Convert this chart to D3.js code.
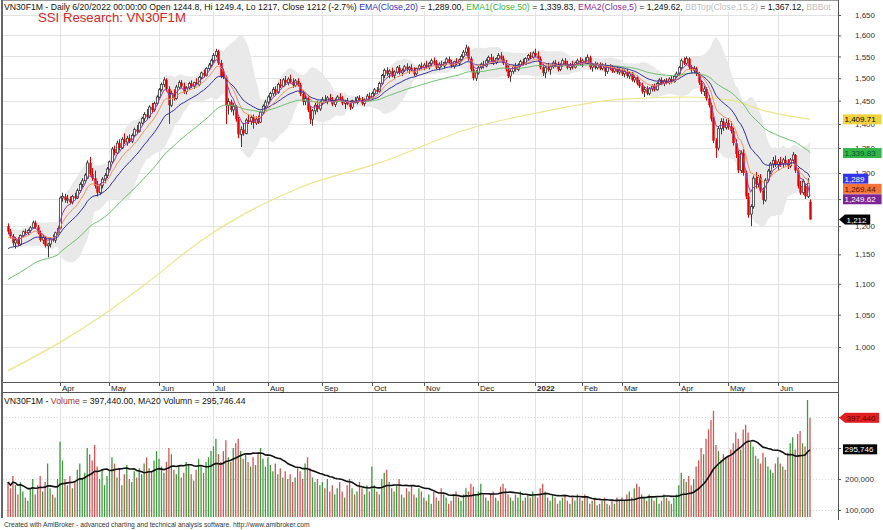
<!DOCTYPE html>
<html><head><meta charset="utf-8">
<script src="https://cdn.jsdelivr.net/npm/d3@7"></script>
<style>body{margin:0;background:#fff}svg{display:block;font-family:"Liberation Sans",Arial,sans-serif}</style>
</head><body><svg id="c" width="883" height="530"></svg>
<script>
// ---------- data ----------
const candles = [ // [open, high, low, close] daily bars, Mar 2021 .. 20 Jun 2022
[1200,1205,1185,1190],[1190,1195,1178,1182],[1182,1186,1165,1170],[1170,1180,1160,1175],[1175,1180,1165,1168],[1168,1185,1165,1183],[1183,1192,1180,1190],[1190,1195,1185,1188],[1188,1195,1184,1192],[1192,1200,1188,1197],[1197,1210,1195,1206],[1206,1210,1195,1198],[1198,1202,1185,1188],[1188,1192,1172,1175],[1175,1185,1168,1180],[1180,1182,1162,1165],[1165,1170,1145,1168],[1168,1180,1162,1177],[1177,1185,1172,1175],[1175,1190,1170,1188],[1188,1200,1185,1196],
[1196,1255,1194,1252],[1252,1262,1245,1255],[1255,1260,1243,1248],[1248,1258,1242,1250],[1250,1255,1240,1244],[1244,1258,1240,1255],[1255,1262,1248,1252],[1252,1270,1250,1266],[1266,1282,1262,1278],[1278,1290,1272,1285],[1285,1300,1280,1296],[1290,1325,1288,1320],[1320,1332,1295,1298],[1298,1310,1285,1290],[1290,1305,1270,1275],[1275,1285,1255,1262],[1262,1280,1258,1276],[1276,1292,1270,1288],[1288,1300,1280,1295],[1295,1312,1290,1308],
[1308,1325,1305,1322],[1322,1352,1318,1348],[1348,1355,1335,1340],[1340,1365,1338,1360],[1360,1368,1345,1350],[1350,1372,1348,1368],[1368,1380,1358,1362],[1362,1375,1355,1370],[1370,1378,1360,1364],[1364,1380,1360,1376],[1376,1392,1372,1388],[1388,1398,1380,1384],[1384,1405,1382,1402],[1402,1415,1398,1412],[1412,1425,1405,1420],[1420,1432,1410,1415],[1415,1440,1412,1436],[1436,1445,1425,1430],[1430,1448,1426,1444],[1444,1462,1440,1458],
[1458,1478,1455,1474],[1474,1490,1470,1486],[1486,1502,1480,1496],[1496,1500,1470,1476],[1476,1482,1400,1440],[1440,1472,1436,1466],[1466,1475,1450,1455],[1455,1485,1452,1480],[1480,1495,1476,1490],[1490,1496,1478,1482],[1482,1490,1465,1470],[1470,1482,1464,1478],[1478,1492,1474,1488],[1488,1495,1478,1482],[1482,1492,1476,1490],[1490,1500,1484,1486],[1486,1505,1482,1502],[1502,1515,1498,1512],[1512,1520,1502,1506],[1506,1525,1504,1522],[1522,1535,1518,1530],[1530,1545,1526,1540],
[1540,1558,1535,1552],[1552,1568,1548,1562],[1562,1566,1530,1535],[1535,1542,1500,1505],[1515,1522,1498,1502],[1502,1506,1400,1440],[1440,1455,1420,1448],[1448,1452,1425,1430],[1430,1445,1418,1438],[1438,1440,1405,1410],[1410,1415,1370,1378],[1378,1395,1352,1388],[1388,1402,1375,1380],[1380,1412,1378,1408],[1408,1420,1400,1405],[1405,1418,1398,1414],[1414,1420,1390,1402],[1402,1416,1398,1410],[1410,1418,1400,1404],[1404,1428,1402,1425],[1425,1442,1420,1438],[1438,1452,1432,1447],
[1447,1462,1442,1458],[1458,1470,1450,1466],[1466,1480,1460,1475],[1475,1482,1462,1468],[1468,1490,1465,1486],[1486,1498,1478,1482],[1482,1500,1480,1496],[1496,1505,1485,1490],[1490,1502,1484,1498],[1498,1508,1488,1492],[1492,1500,1478,1484],[1484,1498,1480,1494],[1494,1500,1480,1485],[1485,1490,1460,1465],[1465,1472,1440,1448],[1448,1462,1440,1455],[1455,1458,1425,1430],[1430,1438,1400,1410],[1410,1432,1396,1428],[1428,1445,1420,1440],[1440,1450,1425,1432],[1432,1450,1428,1446],
[1446,1458,1440,1452],[1452,1462,1445,1448],[1448,1460,1442,1456],[1456,1465,1448,1452],[1452,1458,1438,1442],[1442,1455,1436,1450],[1450,1462,1446,1458],[1458,1466,1450,1454],[1454,1460,1440,1444],[1444,1452,1432,1448],[1448,1456,1440,1442],[1442,1450,1430,1436],[1436,1452,1432,1450],[1450,1458,1444,1446],[1446,1460,1442,1456],[1456,1462,1448,1452],[1452,1458,1440,1444],[1444,1455,1438,1452],[1452,1465,1448,1460],[1460,1468,1452,1456],
[1456,1470,1452,1466],[1466,1478,1460,1474],[1474,1480,1465,1470],[1470,1492,1468,1488],[1488,1510,1485,1506],[1506,1522,1500,1518],[1518,1525,1505,1510],[1510,1520,1500,1516],[1516,1524,1502,1506],[1506,1518,1498,1514],[1514,1528,1510,1524],[1524,1530,1508,1512],[1512,1522,1505,1518],[1518,1530,1514,1526],[1526,1534,1515,1520],[1520,1528,1510,1524],[1524,1532,1516,1518],[1518,1525,1505,1510],[1510,1524,1506,1522],[1522,1532,1518,1528],[1528,1536,1520,1524],
[1524,1535,1518,1530],[1530,1540,1522,1526],[1526,1538,1520,1534],[1534,1545,1528,1540],[1540,1548,1530,1535],[1535,1542,1520,1524],[1524,1536,1518,1532],[1532,1540,1525,1528],[1528,1538,1522,1536],[1536,1548,1530,1544],[1544,1550,1532,1536],[1536,1542,1524,1528],[1528,1540,1522,1538],[1538,1546,1530,1534],[1534,1545,1528,1542],[1542,1555,1538,1550],[1550,1565,1545,1560],[1560,1578,1552,1570],[1570,1574,1540,1545],[1545,1550,1515,1520],[1520,1528,1495,1500],[1500,1518,1494,1512],
[1512,1528,1508,1524],[1524,1536,1520,1532],[1532,1540,1522,1528],[1528,1545,1525,1540],[1540,1552,1535,1548],[1548,1556,1538,1542],[1542,1550,1530,1536],[1536,1548,1532,1545],[1545,1558,1540,1552],[1552,1560,1540,1545],[1545,1552,1530,1534],[1534,1542,1515,1520],[1520,1530,1500,1505],[1505,1520,1492,1515],[1515,1530,1510,1526],[1526,1535,1515,1520],[1520,1534,1516,1530],[1530,1542,1526,1538],[1538,1545,1528,1532],[1532,1548,1530,1545],[1545,1556,1540,1552],[1552,1560,1544,1548],[1548,1562,1545,1558],
[1558,1568,1548,1552],[1552,1562,1540,1545],[1545,1550,1520,1525],[1525,1532,1505,1512],[1512,1528,1500,1524],[1524,1535,1515,1520],[1520,1530,1508,1526],[1526,1540,1522,1535],[1535,1542,1525,1530],[1530,1538,1515,1520],[1520,1534,1516,1530],[1530,1545,1526,1540],[1540,1546,1528,1532],[1532,1540,1520,1524],[1524,1535,1518,1530],[1530,1540,1520,1525],[1525,1538,1522,1535],[1535,1545,1530,1540],[1540,1548,1530,1536],
[1536,1545,1525,1540],[1540,1548,1532,1535],[1535,1555,1532,1548],[1548,1552,1520,1525],[1525,1535,1515,1530],[1530,1538,1520,1524],[1524,1536,1520,1532],[1532,1536,1518,1522],[1522,1534,1518,1530],[1530,1535,1505,1515],[1515,1528,1510,1525],[1525,1532,1518,1522],[1522,1530,1512,1516],[1516,1526,1512,1522],[1522,1528,1510,1514],[1514,1524,1508,1518],
[1518,1522,1505,1510],[1510,1520,1502,1515],[1515,1520,1500,1505],[1505,1515,1498,1510],[1510,1514,1492,1496],[1496,1506,1490,1502],[1502,1506,1484,1488],[1488,1496,1478,1482],[1482,1490,1465,1470],[1470,1480,1458,1475],[1475,1482,1462,1466],[1466,1480,1462,1476],[1476,1486,1470,1482],[1482,1488,1470,1474],[1474,1492,1472,1488],[1488,1500,1484,1496],[1496,1502,1484,1488],[1488,1498,1482,1494],[1494,1500,1486,1490],[1490,1502,1486,1498],[1498,1506,1488,1492],[1492,1508,1490,1504],[1504,1515,1500,1510],
[1510,1528,1506,1524],[1524,1545,1520,1540],[1540,1548,1530,1534],[1534,1550,1530,1545],[1545,1548,1520,1525],[1525,1530,1512,1518],[1518,1528,1512,1522],[1522,1526,1505,1510],[1510,1514,1485,1490],[1490,1495,1465,1470],[1470,1482,1460,1476],[1476,1480,1450,1455],[1455,1462,1435,1440],[1440,1445,1405,1410],[1410,1415,1360,1365],[1365,1370,1330,1350],[1350,1395,1345,1390],[1390,1412,1378,1405],[1405,1412,1385,1392],[1392,1410,1388,1402],
[1402,1412,1388,1395],[1395,1405,1380,1385],[1385,1392,1355,1360],[1360,1368,1330,1338],[1338,1345,1300,1305],[1305,1345,1300,1340],[1340,1348,1295,1300],[1300,1305,1250,1255],[1255,1262,1215,1220],[1222,1240,1200,1236],[1236,1295,1232,1290],[1290,1302,1270,1278],[1278,1296,1272,1292],[1292,1298,1262,1266],[1266,1272,1240,1248],[1248,1290,1245,1286],[1286,1308,1282,1304],[1304,1322,1298,1318],[1318,1332,1310,1325],[1325,1335,1312,1316],
[1316,1328,1305,1322],[1322,1332,1312,1318],[1318,1330,1310,1326],[1326,1334,1315,1320],[1320,1328,1308,1314],[1314,1330,1310,1326],[1326,1342,1320,1336],[1336,1338,1300,1305],[1305,1310,1270,1275],[1275,1285,1258,1262],[1262,1288,1258,1284],[1275,1280,1250,1255],[1255,1290,1252,1280],[1244.8,1249.4,1212,1212]
];
const volumes = [ // thousand contracts per bar
190,170,210,180,150,190,160,140,130,170,200,150,180,210,160,190,250,170,150,140,200,
320,260,200,180,210,170,190,230,250,200,220,300,280,260,310,240,200,230,180,210,
225,270,250,205,235,180,215,245,200,190,225,205,235,215,250,270,235,225,260,290,
265,240,220,255,300,280,230,215,240,205,220,255,245,215,195,230,265,240,220,255,270,290,
305,330,280,255,290,325,270,255,300,315,330,290,265,280,255,240,270,245,280,300,265,240,
270,245,225,250,215,235,205,225,200,215,190,205,235,225,200,250,270,235,205,190,200,180,
190,170,200,160,180,150,170,190,160,140,180,200,170,150,160,190,170,150,180,160,
240,180,160,150,200,220,230,190,170,160,180,200,150,140,170,160,180,150,140,170,160,
140,130,150,120,160,140,130,170,150,140,120,130,150,160,140,130,150,170,160,185,175,150,
160,185,150,140,130,150,160,140,130,175,185,170,150,140,130,150,140,160,130,140,150,140,160,
150,140,170,185,160,140,130,150,140,120,130,140,150,130,120,140,130,150,140,
130,150,140,120,130,140,115,120,130,140,120,115,130,120,140,130,
140,130,150,160,140,170,185,175,150,140,130,150,140,130,140,120,130,150,140,130,120,140,150,
180,220,200,190,210,180,200,240,260,300,280,330,360,390,420,310,290,260,280,270,
275,295,315,350,330,295,360,375,350,320,305,275,265,250,285,270,240,230,220,250,
270,250,240,230,285,315,335,295,345,355,315,305,455,397.44
];
const monthStart = [21,41,61,83,105,127,147,168,190,213,232,248,271,291,311];
const monthLabel = ["Apr","May","Jun","Jul","Aug","Sep","Oct","Nov","Dec","2022","Feb","Mar","Apr","May","Jun"];
const priceTicks = [1000,1050,1100,1150,1200,1250,1300,1350,1400,1450,1500,1550,1600,1650];
const volumeTicks = [100000,200000,300000,400000];
const emaPeriod = [50,20,10,5];
const emaSeed   = [1107,1160,1180,1188];
const emaColor  = ["#6cbf6c","#30309a","#f0905a","#9a3aa0"];
const yellowIdx = [0,21,40,56,78,118,150,187,215,247,275,292,305,324];
const yellowVal = [965,1007,1054,1101,1174,1272,1320,1391,1425,1453,1458,1451,1429,1410];
const lastLabels = [ [1409.71,"#f2d23c","#000"], [1339.83,"#33b548","#053"], [1289,"#3434e8","#fff"], [1269.44,"#f4733a","#5a1000"], [1249.62,"#7e2596","#fff"] ];
const lastClose = 1212;
const lastVolume = 397440, lastVolMA = 295746;

// ---------- scales ----------
const svg = d3.select("#c");
const n = candles.length;
const P = {l:3, r:838, t:1, b:382};
const V = {t:392, b:517};
const x = d3.scaleLinear().domain([0, n-1]).range([8, 810]);
const y = d3.scaleLog().domain([1000,1650]).range([347,15]);
const yv = d3.scaleLinear().domain([0,100000]).range([541,510]);
const fmt = d3.format(",");

const defs = svg.append("defs");
defs.append("clipPath").attr("id","cp").append("rect").attr("x",P.l).attr("y",P.t).attr("width",P.r-P.l).attr("height",P.b-P.t);
defs.append("clipPath").attr("id","cv").append("rect").attr("x",P.l).attr("y",V.t).attr("width",P.r-P.l).attr("height",V.b-V.t);

// ---------- grids ----------
const g = svg.append("g");
priceTicks.forEach(t => g.append("line").attr("x1",P.l).attr("x2",P.r).attr("y1",Math.round(y(t))+0.5).attr("y2",Math.round(y(t))+0.5).attr("stroke","#e2e2e2"));
volumeTicks.forEach(t => g.append("line").attr("x1",P.l).attr("x2",P.r).attr("y1",Math.round(yv(t))+0.5).attr("y2",Math.round(yv(t))+0.5).attr("stroke","#d8d8d8").attr("stroke-dasharray","1,2"));
monthStart.forEach(i => {
  const xx = Math.round(x(i))+0.5;
  g.append("line").attr("x1",xx).attr("x2",xx).attr("y1",P.t).attr("y2",P.b).attr("stroke","#e2e2e2");
  g.append("line").attr("x1",xx).attr("x2",xx).attr("y1",V.t).attr("y2",V.b).attr("stroke","#e2e2e2");
});

// ---------- price panel ----------
const closes = candles.map(d => d[3]);
const pp = svg.append("g").attr("clip-path","url(#cp)");
const bb = closes.map((c,i) => { const w = closes.slice(Math.max(0,i-14), i+1); const m = d3.mean(w); const sd = Math.sqrt(d3.mean(w, v => (v-m)*(v-m))); return [m+2*sd, m-2*sd]; });
pp.append("path").datum(bb).attr("fill","#e9e9e9")
  .attr("d", d3.area().x((d,i)=>x(i)).y0(d=>y(d[1])).y1(d=>y(d[0])));
pp.append("path").datum(yellowIdx.map((d,k)=>[d,yellowVal[k]])).attr("fill","none").attr("stroke","#ede48a").attr("stroke-width",1.2)
  .attr("d", d3.line().x(d=>x(d[0])).y(d=>y(d[1])).curve(d3.curveMonotoneX));

// candles
candles.forEach((d,i) => {
  const [o,h,l,c] = d; const up = c >= o; const xc = Math.round(x(i));
  const col = up ? "#3a3a3a" : "#e30000";
  pp.append("line").attr("x1",xc+0.5).attr("x2",xc+0.5).attr("y1",y(h)).attr("y2",y(l)).attr("stroke",col).attr("stroke-width",1);
  const top = y(Math.max(o,c)), bot = y(Math.min(o,c));
  if (up) pp.append("rect").attr("x",xc-0.5).attr("y",top).attr("width",2).attr("height",Math.max(0.8,bot-top)).attr("fill","#fff").attr("stroke","#3a3a3a").attr("stroke-width",0.8);
  else pp.append("rect").attr("x",xc-0.7).attr("y",top).attr("width",2.4).attr("height",Math.max(1,bot-top)).attr("fill","#e30000");
});

// EMA lines
emaPeriod.forEach((p,k) => {
  const a = 2/(p+1); let e = emaSeed[k];
  const vals = closes.map((c,i) => (e = i===0 ? emaSeed[k] : e + a*(c-e)));
  pp.append("path").datum(vals).attr("fill","none").attr("stroke",emaColor[k]).attr("stroke-width",1)
    .attr("d", d3.line().x((d,i)=>x(i)).y(d=>y(d)));
});

// ---------- volume panel ----------
const vp = svg.append("g").attr("clip-path","url(#cv)");
volumes.forEach((v,i) => {
  const up = candles[i][3] >= candles[i][0];
  vp.append("line").attr("x1",x(i)).attr("x2",x(i)).attr("y1",yv(0)).attr("y2",yv(v*1000))
    .attr("stroke", up ? "#3f9a3f" : "#d25555").attr("stroke-width",1.3);
});
const ma = volumes.map((v,i) => d3.mean(volumes.slice(Math.max(0,i-19), i+1))*1000);
vp.append("path").datum(ma).attr("fill","none").attr("stroke","#111").attr("stroke-width",1.6)
  .attr("d", d3.line().x((d,i)=>x(i)).y(d=>yv(d)));

// ---------- frames ----------
const f = svg.append("g").attr("stroke","#555").attr("fill","none");
f.append("line").attr("x1",2).attr("x2",2).attr("y1",0).attr("y2",518).attr("stroke","#666").attr("stroke-width",2);
f.append("line").attr("x1",P.r+0.5).attr("x2",P.r+0.5).attr("y1",0).attr("y2",520);
f.append("line").attr("x1",P.l).attr("x2",P.r).attr("y1",0.5).attr("y2",0.5).attr("stroke","#999");
f.append("line").attr("x1",P.l).attr("x2",P.r).attr("y1",P.b+0.5).attr("y2",P.b+0.5);
f.append("line").attr("x1",P.l).attr("x2",P.r).attr("y1",V.t+0.5).attr("y2",V.t+0.5);

// month labels
monthStart.forEach((i,k) => {
  const xx = Math.round(x(i))+0.5;
  svg.append("line").attr("x1",xx).attr("x2",xx).attr("y1",P.b).attr("y2",P.b+4).attr("stroke","#555");
  svg.append("text").attr("x",xx+1.5).attr("y",P.b+8.5).attr("font-size",8).attr("fill","#222")
    .attr("font-weight", monthLabel[k]==="2022" ? "bold" : null).text(monthLabel[k]);
});

// right axes
const ax = svg.append("g").attr("transform",`translate(${P.r},0)`)
  .call(d3.axisRight(y).tickValues(priceTicks).tickFormat(fmt).tickSize(3).tickPadding(14));
const axv = svg.append("g").attr("transform",`translate(${P.r},0)`)
  .call(d3.axisRight(yv).tickValues(volumeTicks).tickFormat(fmt).tickSize(3).tickPadding(4));
[ax,axv].forEach(a => { a.select(".domain").remove(); a.selectAll("text").attr("font-size",8).attr("fill","#333").attr("font-family","Liberation Sans, Arial, sans-serif"); a.selectAll("line").attr("stroke","#555"); });

// value labels on the right
function box(v, yy, bg, fg, arrow, txt) {
  const gg = svg.append("g");
  const x0 = arrow ? 845 : 843, w = txt.length*4.45+3;
  if (arrow) gg.append("path").attr("d",`M${839},${yy} L${845},${yy-5} L${845},${yy+5} Z`).attr("fill",bg);
  gg.append("rect").attr("x",x0).attr("y",yy-5).attr("width",w).attr("height",10).attr("fill",bg);
  gg.append("text").attr("x",x0+1.5).attr("y",yy+3).attr("font-size",8).attr("fill",fg).text(txt);
}
lastLabels.forEach(d => box(d[0], y(d[0]), d[1], d[2], false, fmt(d[0])));
box(lastClose, y(lastClose), "#000", "#fff", true, fmt(lastClose));
box(lastVolume, yv(lastVolume), "#e02020", "#600", true, fmt(lastVolume));
box(lastVolMA, yv(lastVolMA), "#000", "#fff", false, fmt(lastVolMA));

// ---------- texts ----------
function fitText(sel, target) { const len = sel.node().getComputedTextLength(); const fs = parseFloat(sel.attr("font-size")); sel.attr("font-size", fs*target/len); }
svg.append("rect").attr("x",3).attr("y",1).attr("width",P.r-3).attr("height",11).attr("fill","#fff");
const hdr = svg.append("text").attr("x",4).attr("y",9.5).attr("font-size",9).style("white-space","pre");
[["VN30F1M - Daily 6/20/2022 00:00:00 Open 1244.8, Hi 1249.4, Lo 1217, Close 1212 (-2.7%) ","#111"],["EMA(Close,20)","#3030c0"],[" = 1,289.00, ","#111"],["EMA1(Close,50)","#40b040"],[" = 1,339.83, ","#111"],["EMA2(Close,5)","#8a2a9a"],[" = 1,249.62, ","#111"],["BBTop(Close,15,2)","#c0c0c0"],[" = 1,367.12, ","#111"],["BBBot","#c0c0c0"]]
  .forEach(p => hdr.append("tspan").attr("fill",p[1]).text(p[0]));
fitText(hdr, 829);
const ttl = svg.append("text").attr("x",38).attr("y",22).attr("font-size",14).attr("fill","#d02828").text("SSI Research: VN30F1M");
fitText(ttl, 148);
const vh = svg.append("text").attr("x",4).attr("y",403.5).attr("font-size",9).style("white-space","pre");
[["VN30F1M - ","#111"],["Volume","#b03030"],[" = 397,440.00, MA20 Volumn = 295,746.44","#111"]].forEach(p => vh.append("tspan").attr("fill",p[1]).text(p[0]));
fitText(vh, 242);
const ft = svg.append("text").attr("x",4).attr("y",527).attr("font-size",7).attr("fill","#333").text("Created with AmiBroker - advanced charting and technical analysis software. http://www.amibroker.com");
fitText(ft, 306);
</script></body></html>
